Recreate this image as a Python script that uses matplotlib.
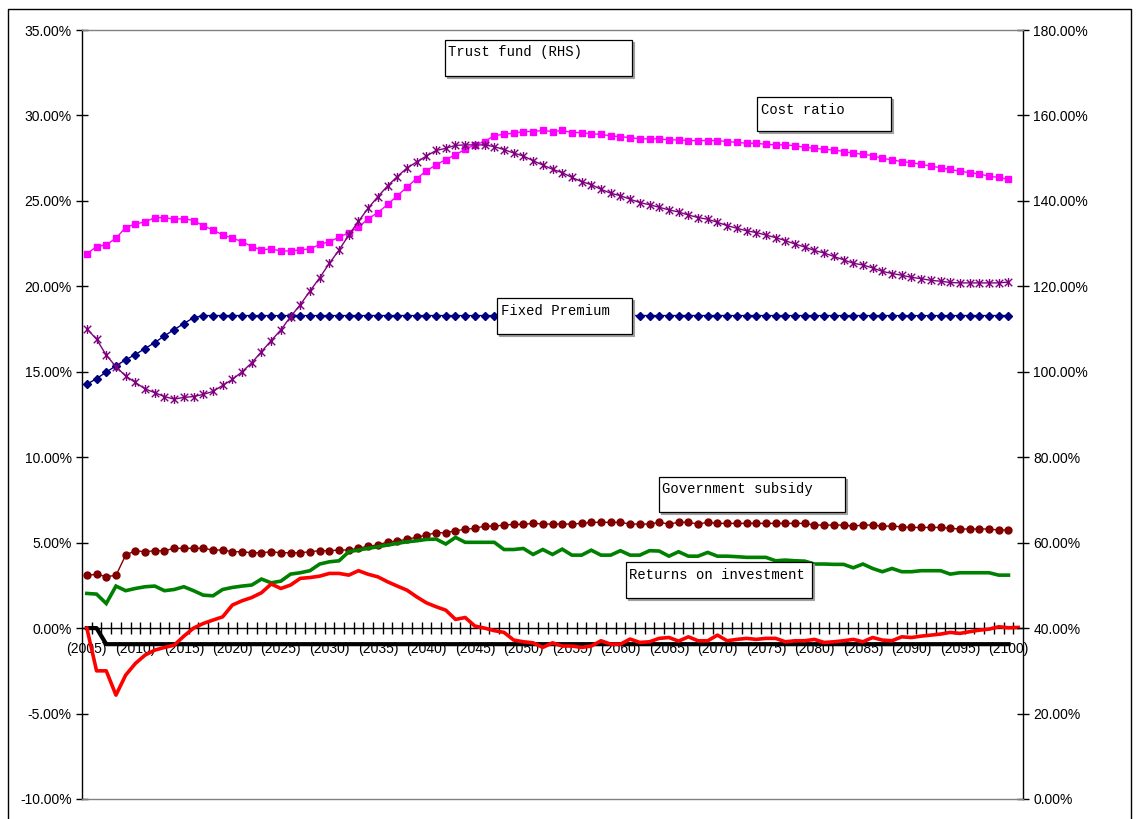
import numpy as np
import matplotlib
matplotlib.use('Agg')
import matplotlib.pyplot as plt
from matplotlib.path import Path
from matplotlib.patches import Rectangle
from matplotlib.lines import Line2D

# ---------------- data ----------------
years = list(range(2005, 2101))
red_years = list(range(2005, 2102))

cost_ratio = [21.90, 22.33, 22.43, 22.82, 23.44, 23.65, 23.77, 24.02, 24.02, 23.93,
              23.96, 23.85, 23.54, 23.30, 23.01, 22.82, 22.62, 22.33, 22.13, 22.19,
              22.07, 22.07, 22.13, 22.19, 22.45, 22.62, 22.87, 23.14, 23.46, 23.95,
              24.32, 24.79, 25.30, 25.81, 26.31, 26.76, 27.11, 27.42, 27.70, 28.02,
              28.28, 28.47, 28.82, 28.90, 28.96, 29.06, 29.06, 29.12, 29.06, 29.12,
              29.00, 29.00, 28.92, 28.90, 28.80, 28.76, 28.70, 28.63, 28.63, 28.63,
              28.57, 28.57, 28.53, 28.53, 28.53, 28.53, 28.47, 28.43, 28.37, 28.37,
              28.31, 28.28, 28.28, 28.22, 28.14, 28.08, 28.02, 27.98, 27.89, 27.79,
              27.73, 27.65, 27.49, 27.40, 27.30, 27.24, 27.14, 27.04, 26.94, 26.84,
              26.74, 26.65, 26.57, 26.45, 26.37, 26.26]

trust_fund_rhs = [110.1, 107.6, 103.9, 101.2, 99.0, 97.5, 96.0, 95.1, 94.2, 93.6,
                  94.0, 94.2, 94.7, 95.4, 96.8, 98.2, 100.0, 102.1, 104.7, 107.3,
                  109.8, 112.9, 115.7, 118.9, 122.0, 125.4, 128.5, 132.0, 135.2, 138.3,
                  141.0, 143.5, 145.7, 147.7, 149.1, 150.5, 151.8, 152.3, 153.0, 153.1,
                  153.1, 153.1, 152.7, 152.0, 151.2, 150.5, 149.4, 148.4, 147.4, 146.6,
                  145.5, 144.5, 143.8, 142.7, 141.8, 141.2, 140.4, 139.6, 139.1, 138.5,
                  137.9, 137.4, 136.7, 136.1, 135.7, 135.0, 134.2, 133.6, 133.0, 132.6,
                  132.0, 131.4, 130.7, 129.9, 129.2, 128.4, 127.8, 127.0, 126.2, 125.4,
                  125.0, 124.3, 123.5, 123.0, 122.6, 122.1, 121.8, 121.4, 121.2, 120.9,
                  120.8, 120.8, 120.8, 120.8, 120.8, 121.0]

fixed_premium = [14.27, 14.60, 14.98, 15.35, 15.70, 16.01, 16.36, 16.71, 17.10, 17.47,
                 17.82, 18.17, 18.29, 18.29, 18.29, 18.29, 18.29, 18.29, 18.29, 18.29,
                 18.29, 18.29, 18.29, 18.29, 18.29, 18.29, 18.29, 18.29, 18.29, 18.29,
                 18.29, 18.29, 18.29, 18.29, 18.29, 18.29, 18.29, 18.29, 18.29, 18.29,
                 18.29, 18.29, 18.29, 18.29, 18.29, 18.29, 18.29, 18.29, 18.29, 18.29,
                 18.29, 18.29, 18.29, 18.29, 18.29, 18.29, 18.29, 18.29, 18.29, 18.29,
                 18.29, 18.29, 18.29, 18.29, 18.29, 18.29, 18.29, 18.29, 18.29, 18.29,
                 18.29, 18.29, 18.29, 18.29, 18.29, 18.29, 18.29, 18.29, 18.29, 18.29,
                 18.29, 18.29, 18.29, 18.29, 18.29, 18.29, 18.29, 18.29, 18.29, 18.29,
                 18.29, 18.29, 18.29, 18.29, 18.29, 18.29]

gov_subsidy = [3.10, 3.14, 3.02, 3.08, 4.27, 4.53, 4.47, 4.53, 4.53, 4.67,
               4.67, 4.67, 4.67, 4.57, 4.57, 4.47, 4.47, 4.41, 4.41, 4.47,
               4.41, 4.41, 4.41, 4.47, 4.53, 4.53, 4.57, 4.57, 4.67, 4.80,
               4.86, 5.05, 5.09, 5.21, 5.31, 5.45, 5.58, 5.58, 5.70, 5.78,
               5.84, 5.97, 5.97, 6.03, 6.07, 6.07, 6.13,
               6.09, 6.09, 6.09, 6.09, 6.13, 6.19, 6.19, 6.19, 6.19, 6.09,
               6.09, 6.09, 6.19, 6.09, 6.19, 6.19, 6.09, 6.19, 6.13, 6.13,
               6.13, 6.13, 6.13, 6.13, 6.13, 6.13, 6.13, 6.13, 6.03, 6.03,
               6.03, 6.03, 5.97, 6.03, 6.03, 5.97, 5.97, 5.93, 5.89, 5.89,
               5.89, 5.89, 5.84, 5.80, 5.80, 5.80, 5.80, 5.74, 5.74]

returns_on_investment = [2.03, 1.99, 1.44, 2.46, 2.19, 2.32, 2.42, 2.46, 2.19, 2.26,
                         2.42, 2.19, 1.93, 1.89, 2.26, 2.38, 2.46, 2.52, 2.87, 2.65,
                         2.75, 3.16, 3.24, 3.36, 3.75, 3.88, 3.94, 4.47, 4.57, 4.67,
                         4.76, 4.86, 4.96, 5.05, 5.11, 5.19, 5.21, 4.92, 5.31, 5.02,
                         5.02, 5.02, 5.02, 4.60, 4.60, 4.66, 4.31, 4.60, 4.31, 4.62,
                         4.27, 4.27, 4.56, 4.27, 4.27, 4.53, 4.27, 4.27, 4.53, 4.51,
                         4.21, 4.47, 4.21, 4.21, 4.43, 4.21, 4.21, 4.18, 4.14, 4.14,
                         4.14, 3.94, 3.98, 3.94, 3.92, 3.75, 3.75, 3.73, 3.73, 3.53,
                         3.75, 3.49, 3.30, 3.49, 3.30, 3.30, 3.36, 3.36, 3.36, 3.16,
                         3.24, 3.24, 3.24, 3.24, 3.10, 3.10]

red_series = [0.00, -2.50, -2.50, -3.92, -2.75, -2.07, -1.58, -1.29, -1.13, -1.00,
              -0.47, 0.00, 0.27, 0.47, 0.66, 1.35, 1.60, 1.79, 2.07, 2.58,
              2.32, 2.52, 2.91, 2.96, 3.04, 3.20, 3.20, 3.10, 3.36, 3.15,
              3.00, 2.71, 2.46, 2.22, 1.83, 1.48, 1.25, 1.05, 0.51, 0.62,
              0.12, 0.00, -0.15, -0.25, -0.70, -0.80, -0.86, -1.13, -0.86, -1.05,
              -1.05, -1.13, -1.05, -0.74, -0.94, -0.94, -0.64, -0.84, -0.80, -0.60,
              -0.55, -0.76, -0.51, -0.74, -0.74, -0.41, -0.74, -0.66, -0.60, -0.66,
              -0.60, -0.60, -0.80, -0.74, -0.74, -0.66, -0.84, -0.80, -0.74, -0.66,
              -0.80, -0.55, -0.70, -0.74, -0.51, -0.55, -0.47, -0.41, -0.35, -0.25,
              -0.31, -0.21, -0.12, -0.06, 0.08, 0.02, 0.04]

black_series = [0.00, 0.00, -0.94, -0.94, -0.94, -0.94, -0.94, -0.94, -0.94, -0.94,
                -0.94, -0.94, -0.94, -0.94, -0.94, -0.94, -0.94, -0.94, -0.94, -0.94,
                -0.94, -0.94, -0.94, -0.94, -0.94, -0.94, -0.94, -0.94, -0.94, -0.94,
                -0.94, -0.94, -0.94, -0.94, -0.94, -0.94, -0.94, -0.94, -0.94, -0.94,
                -0.94, -0.94, -0.94, -0.94, -0.94, -0.94, -0.94, -0.94, -0.94, -0.94,
                -0.94, -0.94, -0.94, -0.94, -0.94, -0.94, -0.94, -0.94, -0.94, -0.94,
                -0.94, -0.94, -0.94, -0.94, -0.94, -0.94, -0.94, -0.94, -0.94, -0.94,
                -0.94, -0.94, -0.94, -0.94, -0.94, -0.94, -0.94, -0.94, -0.94, -0.94,
                -0.94, -0.94, -0.94, -0.94, -0.94, -0.94, -0.94, -0.94, -0.94, -0.94,
                -0.94, -0.94, -0.94, -0.94, -0.94, -0.94]

left_ticks = [-10, -5, 0, 5, 10, 15, 20, 25, 30, 35]
right_ticks = [0, 20, 40, 60, 80, 100, 120, 140, 160, 180]
label_years = [2005, 2010, 2015, 2020, 2025, 2030, 2035, 2040, 2045, 2050,
               2055, 2060, 2065, 2070, 2075, 2080, 2085, 2090, 2095, 2100]

box_texts = ["Trust fund (RHS)", "Cost ratio", "Fixed Premium",
             "Government subsidy", "Returns on investment"]

# ---------------- figure ----------------
W, H = 1140, 819
fig = plt.figure(figsize=(W / 100, H / 100), dpi=100)
fig.patch.set_facecolor('white')

L, R, T, B = 82, 1023, 30, 799
ax = fig.add_axes([L / W, 1 - B / H, (R - L) / W, (B - T) / H])
ax2 = ax.twinx()

ax.set_xlim(2004.5, 2101.5)
ax.set_ylim(-10, 35)
ax2.set_ylim(0, 180)

lbl_font = dict(family='Liberation Sans', size=10)

# left axis styling
for s in ['top', 'right']:
    ax.spines[s].set_visible(False)
ax.spines['left'].set_linewidth(1.0)
ax.spines['bottom'].set_position(('data', 0))
ax.spines['bottom'].set_linewidth(1.0)
ax.spines['bottom'].set_color('#000000')

ax.set_yticks(left_ticks)
ax.set_yticklabels([f"{v:.2f}%" for v in left_ticks], **lbl_font)
ax.tick_params(axis='y', direction='inout', length=9, width=1, pad=3)

ax.set_xticks(np.arange(2005.5, 2101.0, 1.0))
ax.set_xticklabels([])
ax.tick_params(axis='x', which='major', direction='inout', length=9, width=1)
ax.set_xticks(label_years, minor=True)
ax.set_xticklabels([f"({y})" for y in label_years], minor=True, **lbl_font)
ax.tick_params(axis='x', which='minor', length=0, pad=10)

# right axis styling
ax2.spines['left'].set_visible(False)
ax2.spines['right'].set_linewidth(1.0)
ax2.spines['top'].set_color('#808080')
ax2.spines['top'].set_linewidth(1.0)
ax2.spines['bottom'].set_color('#808080')
ax2.spines['bottom'].set_linewidth(1.0)
ax2.set_yticks(right_ticks)
ax2.set_yticklabels([f"{v:.2f}%" for v in right_ticks], **lbl_font)
ax2.tick_params(axis='y', direction='inout', length=9, width=1, pad=3)

# ---------------- series ----------------
ax.plot(years, cost_ratio, color='#FF00FF', lw=1.0, marker='s', ms=5,
        mfc='#FF00FF', mec='#FF00FF', zorder=3)
ax.plot(years, fixed_premium, color='#000080', lw=1.0, marker='D', ms=4.2,
        mfc='#000080', mec='#000080', zorder=3)
ax.plot(years, gov_subsidy, color='#800000', lw=1.0, marker='o', ms=5,
        mfc='#800000', mec='#800000', zorder=3)
ax.plot(years, returns_on_investment, color='#008000', lw=2.6, zorder=3,
        solid_joinstyle='miter')
ax.plot(years, black_series, color='#000000', lw=3.0, zorder=3)
ax.plot(red_years, red_series, color='#FF0000', lw=2.6, zorder=4)

star = Path([(-1, -1), (1, 1), (-1, 1), (1, -1), (0, -1.2), (0, 1.2)],
            [Path.MOVETO, Path.LINETO, Path.MOVETO, Path.LINETO,
             Path.MOVETO, Path.LINETO])
ax2.plot(years, trust_fund_rhs, color='#800080', lw=1.0, marker=star, ms=6.5,
         mfc='none', mec='#800080', mew=1.0, zorder=3)

# ---------------- text boxes ----------------
def px_box(x0, y0, x1, y1):
    return (x0 / W, 1 - y1 / H), (x1 - x0) / W, (y1 - y0) / H

boxes = [
    (445, 40, 632, 76, 448, 52),
    (757, 97, 891, 131, 761, 110),
    (497, 298, 632, 334, 501, 311),
    (659, 477, 845, 512, 662, 489),
    (626, 562, 812, 598, 629, 575),
]
for (x0, y0, x1, y1, tx, ty), txt in zip(boxes, box_texts):
    xy, w, h = px_box(x0 + 2, y0 + 2, x1 + 2, y1 + 2)
    fig.add_artist(Rectangle(xy, w, h, transform=fig.transFigure,
                             facecolor='#A0A0A0', edgecolor='#A0A0A0', lw=0.8, zorder=5))
    xy, w, h = px_box(x0, y0, x1, y1)
    fig.add_artist(Rectangle(xy, w, h, transform=fig.transFigure,
                             facecolor='white', edgecolor='black', lw=0.9, zorder=6))
    fig.text(tx / W, 1 - ty / H, txt, family='Liberation Mono', size=10,
             ha='left', va='center', zorder=7)

# chart area border
bx = [8 / W, 8 / W, 1131 / W, 1131 / W]
by = [-0.05, 1 - 9 / H, 1 - 9 / H, -0.05]
fig.add_artist(Line2D(bx, by, transform=fig.transFigure, color='black', lw=1.0))

fig.savefig('out.png', dpi=100, facecolor='white')
